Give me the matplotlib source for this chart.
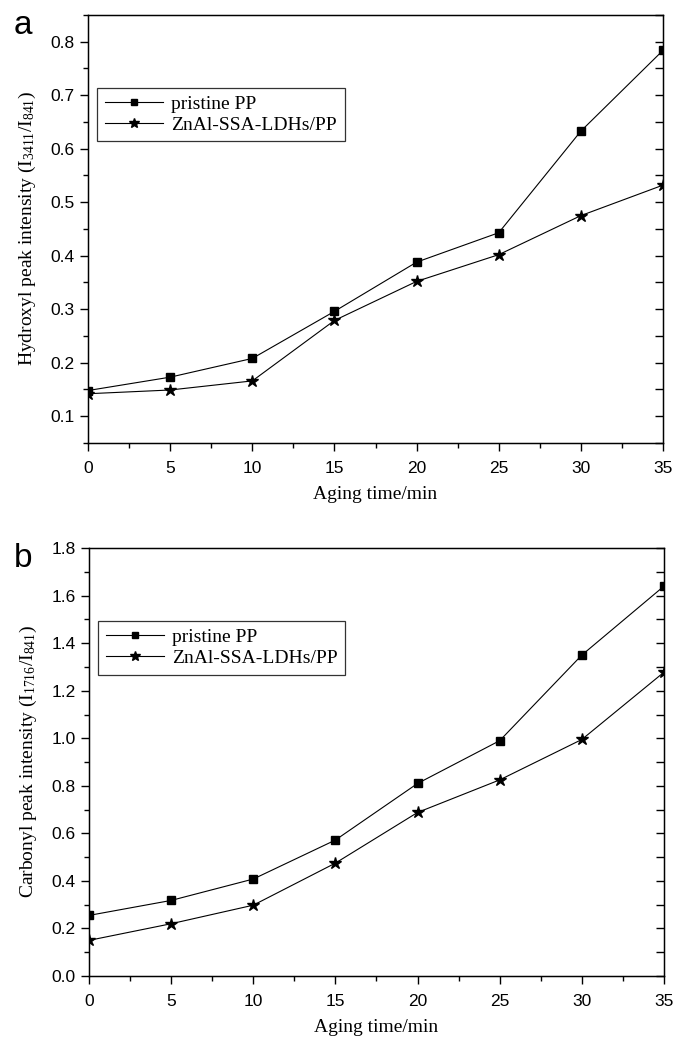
import matplotlib
matplotlib.use("Agg")
import matplotlib.pyplot as plt
from matplotlib.ticker import MultipleLocator

time_min = [0, 5, 10, 15, 20, 25, 30, 35]
hydroxyl_pp = [0.148, 0.173, 0.208, 0.296, 0.388, 0.443, 0.633, 0.784]
hydroxyl_ldh = [0.142, 0.149, 0.166, 0.279, 0.352, 0.402, 0.475, 0.532]
carbonyl_pp = [0.255, 0.318, 0.408, 0.572, 0.810, 0.990, 1.350, 1.640]
carbonyl_ldh = [0.150, 0.220, 0.298, 0.475, 0.688, 0.825, 0.995, 1.278]
labels = ["pristine PP", "ZnAl-SSA-LDHs/PP"]

SERIF = "Liberation Serif"
SANS = "Liberation Sans"
plt.rcParams["mathtext.fontset"] = "custom"
plt.rcParams["mathtext.rm"] = SERIF
plt.rcParams["mathtext.it"] = SERIF + ":italic"

fig = plt.figure(figsize=(6.73, 10.42), dpi=100)


def panel(rect, y1, y2, ylim, ymajor, yminor, ylabel, letter):
    ax = fig.add_axes(rect)
    ax.plot(time_min, y1, color="black", lw=0.8, marker="s", ms=6, label=labels[0])
    ax.plot(time_min, y2, color="black", lw=0.8, marker="*", ms=9, label=labels[1])
    ax.set_xlim(0, 35)
    ax.set_ylim(*ylim)
    ax.xaxis.set_major_locator(MultipleLocator(5))
    ax.xaxis.set_minor_locator(MultipleLocator(2.5))
    ax.yaxis.set_major_locator(MultipleLocator(ymajor))
    ax.yaxis.set_minor_locator(MultipleLocator(yminor))
    ax.tick_params(which="both", direction="out", top=False, right=False, width=1.0)
    ax.tick_params(which="major", length=6, labelsize=12.5)
    ax.tick_params(axis="x", which="major", pad=7)
    ax.tick_params(which="minor", length=3.5)
    for lab in ax.get_xticklabels() + ax.get_yticklabels():
        lab.set_fontfamily(SANS)
    for sp in ax.spines.values():
        sp.set_linewidth(1.0)
    # mirrored inward ticks on the right side
    twin = ax.twinx()
    twin.set_ylim(*ylim)
    twin.yaxis.set_major_locator(MultipleLocator(ymajor))
    twin.yaxis.set_minor_locator(MultipleLocator(yminor))
    twin.tick_params(which="both", direction="in", length=5.5, width=1.0, labelright=False)
    ax.set_xlabel("Aging time/min", family=SERIF, fontsize=14, labelpad=7)
    ax.set_ylabel(ylabel, family=SERIF, fontsize=14, labelpad=9)
    leg = ax.legend(loc="upper left", bbox_to_anchor=(0.016, 0.83), frameon=True,
                    fancybox=False, edgecolor="black", borderpad=0.4,
                    handlelength=3.0, handletextpad=0.4, labelspacing=0.15,
                    markerscale=0.8, borderaxespad=0,
                    prop={"family": SERIF, "size": 14})
    leg.get_frame().set_linewidth(0.9)
    fig.text(0.02, rect[1] + rect[3] + 0.005, letter, family=SANS, fontsize=24,
             va="top", ha="left")
    return ax


panel([0.1308, 0.5749, 0.8544, 0.4107], hydroxyl_pp, hydroxyl_ldh, (0.05, 0.85), 0.1, 0.05,
      r"Hydroxyl peak intensity (I$_{3411}$/I$_{841}$)", "a")
panel([0.1322, 0.0633, 0.8544, 0.4107], carbonyl_pp, carbonyl_ldh, (0.0, 1.8), 0.2, 0.1,
      r"Carbonyl peak intensity (I$_{1716}$/I$_{841}$)", "b")

fig.savefig("out.png", dpi=100)
